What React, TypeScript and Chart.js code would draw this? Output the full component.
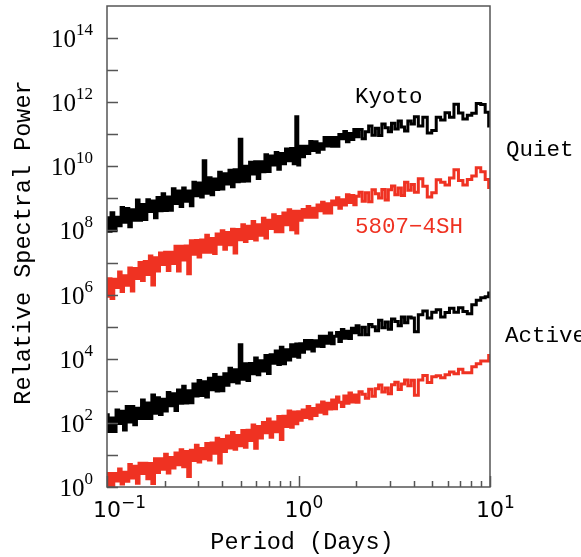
import React, { useEffect, useRef } from 'react';
import { Chart, registerables } from 'chart.js';

Chart.register(...registerables);

// Period grid (days)
const periods = [
  0.100, 0.103, 0.107, 0.110, 0.113, 0.117, 0.120, 0.124, 0.128, 0.132,
  0.136, 0.140, 0.145, 0.149, 0.154, 0.159, 0.164, 0.169, 0.174, 0.180,
  0.185, 0.191, 0.197, 0.203, 0.210, 0.216, 0.223, 0.230, 0.237, 0.245,
  0.252, 0.260, 0.268, 0.277, 0.285, 0.294, 0.304, 0.313, 0.323, 0.333,
  0.344, 0.355, 0.366, 0.377, 0.389, 0.401, 0.414, 0.427, 0.440, 0.454,
  0.468, 0.483, 0.498, 0.514, 0.530, 0.547, 0.564, 0.581, 0.600, 0.618,
  0.638, 0.658, 0.678, 0.700, 0.722, 0.744, 0.768, 0.792, 0.816, 0.842,
  0.869, 0.896, 0.924, 0.953, 0.983, 1.000,
  1.03, 1.06, 1.09, 1.13, 1.16, 1.19, 1.23, 1.27, 1.30, 1.34,
  1.38, 1.43, 1.47, 1.51, 1.56, 1.60, 1.65, 1.70, 1.75, 1.81,
  1.86, 1.92, 1.97, 2.03, 2.11, 2.19, 2.28, 2.37, 2.47, 2.57,
  2.67, 2.78, 2.89, 3.00, 3.12, 3.25, 3.38, 3.51, 3.65, 3.80,
  3.95, 4.11, 4.34, 4.58, 4.83, 5.10, 5.38, 5.67, 5.98, 6.31,
  6.66, 7.03, 7.41, 7.82, 8.25, 8.71, 9.19, 9.69, 10.0,
];

// Quiet Sun, Kyoto
const kyotoQuiet = [
  2.5e8, 9.5e7, 3.6e8, 9.8e7, 2.6e8, 1.4e8, 5.2e8, 1.8e8, 4.8e8, 1.3e8,
  4.4e8, 2.1e8, 8.9e8, 2.1e8, 6.5e8, 2.2e8, 9.1e8, 3.9e8, 8.3e8, 2.5e8,
  1.07e9, 4.1e8, 1.4e9, 4.2e8, 1.1e9, 4.3e8, 2.0e9, 6.9e8, 1.7e9, 5.6e8,
  2.1e9, 8.1e8, 1.7e9, 5.9e8, 3.2e9, 1.2e9, 3.0e9, 1.1e9, 1.5e10, 1.45e9,
  4.4e9, 1.3e9, 4.0e9, 1.9e9, 6.5e9, 1.95e9, 5.9e9, 2.8e9, 7.6e9, 2.3e9,
  7.8e9, 3.3e9, 7.0e10, 3.4e9, 1.0e10, 3.5e9, 1.35e10, 5.8e9, 1.4e10, 4.2e9,
  1.4e10, 6.8e9, 2.3e10, 6.9e9, 2.1e10, 1.1e10, 2.7e10, 8.1e9, 2.5e10, 1.2e10,
  3.5e10, 1.5e10, 3.6e10, 1.2e10, 3.5e11, 1.1e10,
  4.2e10, 2.0e10, 4.2e10, 2.5e10, 5.9e10, 3.1e10, 5.8e10, 2.75e10, 5.1e10, 3.4e10,
  7.9e10, 4.3e10, 7.9e10, 4.2e10, 7.9e10, 4.2e10, 9.8e10, 7.2e10, 1.23e11, 5.8e10,
  1.05e11, 6.9e10, 1.4e11, 8.3e10, 1.4e11, 7.2e10, 1.2e11, 1.8e11, 9.3e10, 1.55e11,
  9.1e10, 2.1e11, 1.6e11, 1.2e11, 2.2e11, 1.45e11, 2.6e11, 1.7e11, 1.26e11, 2.6e11,
  2.1e11, 3.5e11, 1.8e11, 3.4e11, 1.1e11, 1.3e11, 3.4e11, 2.8e11, 4.7e11, 3.4e11,
  8.7e11, 4.6e11, 3.0e11, 3.9e11, 4.5e11, 9.1e11, 8.5e11, 4.9e11, 1.8e11,
];

// Quiet Sun, 5807-4SH
const lab5807Quiet = [
  8.9e5, 3.1e6, 7.6e5, 3.0e6, 1.66e6, 5.1e6, 1.26e6, 3.9e6, 1.95e6, 6.8e6,
  1.3e6, 6.5e6, 3.2e6, 1.0e7, 2.75e6, 1.07e7, 4.2e6, 1.6e7, 2.0e6, 1.4e7,
  5.4e6, 2.0e7, 8.7e6, 2.1e7, 5.6e6, 2.1e7, 9.3e6, 3.2e7, 5.4e6, 3.2e7,
  1.2e7, 3.3e7, 4.5e6, 4.8e7, 1.8e7, 4.9e7, 1.5e7, 5.0e7, 2.1e7, 7.1e7,
  2.1e7, 5.6e7, 1.9e7, 7.8e7, 3.7e7, 9.8e7, 2.6e7, 8.7e7, 3.6e7, 1.1e8,
  2.0e7, 1.07e8, 5.1e7, 1.5e8, 4.5e7, 1.35e8, 5.6e7, 1.9e8, 5.0e7, 1.5e8,
  7.1e7, 2.4e8, 5.8e7, 2.1e8, 1.15e8, 3.1e8, 9.1e7, 2.75e8, 9.1e7, 3.5e8,
  1.5e8, 4.4e8, 1.05e8, 4.0e8, 8.3e7, 4.0e8,
  2.1e8, 4.5e8, 2.6e8, 5.6e8, 2.6e8, 4.9e8, 2.6e8, 6.2e8, 4.1e8, 7.6e8,
  3.5e8, 6.8e8, 3.5e8, 8.3e8, 6.3e8, 1.05e9, 4.9e8, 9.1e8, 6.2e8, 1.3e9,
  7.4e8, 1.23e9, 6.3e8, 1.17e9, 1.55e9, 8.1e8, 1.5e9, 7.9e8, 1.86e9, 1.4e9,
  1.02e9, 1.9e9, 8.9e8, 1.86e9, 2.45e9, 1.3e9, 2.1e9, 1.23e9, 3.2e9, 1.8e9,
  2.7e9, 1.55e9, 4.1e9, 2.4e9, 1.1e9, 1.5e9, 3.8e9, 3.2e9, 2.6e9, 4.3e9,
  7.8e9, 3.6e9, 2.6e9, 3.9e9, 5.0e9, 9.1e9, 6.8e9, 3.9e9, 2.2e9,
];

// Active Sun, Kyoto
const kyotoActive = [
  178, 54, 141, 54, 251, 95, 229, 60, 324, 107,
  324, 87, 288, 138, 513, 138, 417, 138, 741, 200,
  603, 182, 550, 234, 891, 339, 813, 245, 1050, 407,
  1380, 417, 1000, 427, 1620, 692, 2090, 708, 1900, 646,
  2450, 1070, 3240, 977, 2630, 1000, 3390, 1480, 5010, 1900,
  4570, 1740, 27500, 2290, 6920, 2090, 7080, 3390, 10500, 3160,
  8710, 4170, 12600, 3470, 13200, 7240, 17400, 6610, 22900, 6920,
  19100, 9120, 27500, 12000, 28800, 11200,
  29500, 15800, 37200, 20000, 37200, 17400, 36300, 24500, 50100, 24000,
  50100, 30200, 63100, 29500, 50100, 66100, 34700, 81300, 43700, 72400,
  42700, 89100, 64600, 107000, 56200, 95500, 56200, 117000, 100000, 74100,
  158000, 93300, 141000, 83200, 174000, 145000, 107000, 200000, 132000, 200000,
  186000, 69200, 234000, 309000, 186000, 282000, 339000, 200000, 275000, 372000,
  282000, 389000, 295000, 251000, 479000, 661000, 794000, 851000, 1120000,
];

// Active Sun, 5807-4SH
const lab5807Active = [
  1.12, 2.63, 0.89, 2.63, 1.55, 3.63, 1.23, 2.88, 1.51, 5.01,
  1.91, 4.47, 1.32, 5.5, 2.63, 5.5, 1.82, 5.37, 1.29, 7.59,
  2.82, 7.59, 3.55, 10.5, 2.75, 8.32, 3.89, 11.5, 4.9, 14.5,
  4.27, 12.9, 2.14, 14.1, 6.76, 20.0, 6.03, 15.8, 7.59, 22.9,
  6.92, 23.4, 11.2, 33.1, 5.62, 30.2, 12.9, 38.9, 16.6, 50.1,
  15.1, 40.7, 19.5, 57.5, 17.4, 58.9, 28.2, 85.1, 16.2, 77.6,
  33.9, 102, 49.0, 132, 35.5, 107, 52.5, 158, 30.2, 162,
  77.6, 234, 72.4, 219, 93.3, 224,
  120, 251, 148, 324, 135, 282, 170, 363, 214, 447,
  191, 407, 269, 513, 275, 646, 437, 324, 692, 407,
  851, 447, 741, 437, 933, 776, 589, 1120, 676, 1150,
  1510, 912, 1230, 813, 1550, 1860, 1100, 1620, 2190, 1450,
  2140, 724, 2190, 3020, 1820, 2750, 2950, 2570, 3160, 3890,
  3390, 4680, 3630, 3630, 5620, 6920, 8510, 8510, 12600,
];

const yLabelExponents = ['0', '2', '4', '6', '8', '10', '12', '14'];
const yTickExponents = [0, 1, 2, 3, 4, 5, 6, 7, 8, 9, 10, 11, 12, 13, 14];
const xLabelExponents = ['\u22121', '0', '1'];
const xLabelValues = [0.1, 1, 10];
const xMinorTicks = [0.2, 0.3, 0.4, 0.5, 0.6, 0.7, 0.8, 0.9, 2, 3, 4, 5, 6, 7, 8, 9];

const xTitle = 'Period (Days)';
const yTitle = 'Relative Spectral Power';
const seriesLabels = ['Kyoto', '5807\u22124SH'];
const groupLabels = ['Quiet', 'Active'];

const BLACK = '#000000';
const RED = '#ef3222';
const FRAME = '#555555';
const MONO = '"Liberation Mono", "DejaVu Sans Mono", monospace';

const decorPlugin = {
  id: 'decor',
  afterDatasetsDraw(chart: any) {
    const { ctx, chartArea: a, scales } = chart;
    const xs = scales.x;
    const ys = scales.y;
    ctx.save();
    // frame
    ctx.strokeStyle = FRAME;
    ctx.lineWidth = 1.5;
    ctx.strokeRect(a.left, a.top, a.right - a.left, a.bottom - a.top);

    // y ticks (inward)
    ctx.beginPath();
    yTickExponents.forEach((e) => {
      const py = Math.round(ys.getPixelForValue(Math.pow(10, e))) + 0.5;
      ctx.moveTo(a.left, py);
      ctx.lineTo(a.left + 11, py);
    });
    // x ticks (inward)
    xLabelValues.forEach((v) => {
      const px = Math.round(xs.getPixelForValue(v)) + 0.5;
      ctx.moveTo(px, a.bottom);
      ctx.lineTo(px, a.bottom - 11);
    });
    xMinorTicks.forEach((v) => {
      const px = Math.round(xs.getPixelForValue(v)) + 0.5;
      ctx.moveTo(px, a.bottom);
      ctx.lineTo(px, a.bottom - 6);
    });
    ctx.stroke();

    // y tick labels: 10^n
    ctx.fillStyle = BLACK;
    ctx.textBaseline = 'alphabetic';
    yLabelExponents.forEach((ex) => {
      const py = ys.getPixelForValue(Math.pow(10, Number(ex)));
      const right = 93;
      ctx.font = '17px "Liberation Serif", serif';
      const ew = ctx.measureText(ex).width;
      ctx.textAlign = 'left';
      ctx.fillText(ex, right - ew, py - 3);
      ctx.font = '25px "Liberation Serif", serif';
      const bw = ctx.measureText('10').width;
      ctx.fillText('10', right - ew - bw, py + 9);
    });

    // x tick labels
    xLabelValues.forEach((v, i) => {
      const px = xs.getPixelForValue(v);
      ctx.font = '22px "DejaVu Sans", sans-serif';
      const bw = ctx.measureText('10').width;
      ctx.textAlign = 'left';
      ctx.fillText('10', px - bw / 2, 517);
      ctx.font = '17px "DejaVu Sans", sans-serif';
      ctx.fillText(xLabelExponents[i], px + bw / 2, 508);
    });

    // axis titles
    ctx.font = '23.5px ' + MONO;
    ctx.textAlign = 'center';
    ctx.fillText(xTitle, 302, 549);
    ctx.save();
    ctx.translate(30, 242.5);
    ctx.rotate(-Math.PI / 2);
    ctx.fillText(yTitle, 0, 0);
    ctx.restore();

    // annotations
    ctx.font = '22.5px ' + MONO;
    ctx.textAlign = 'left';
    ctx.fillStyle = BLACK;
    ctx.fillText(seriesLabels[0], 355, 103);
    ctx.fillStyle = RED;
    ctx.fillText(seriesLabels[1], 355, 233);
    ctx.fillStyle = BLACK;
    ctx.fillText(groupLabels[0], 506, 156);
    ctx.fillText(groupLabels[1], 505, 342);
    ctx.restore();
  },
};

function toPoints(vals: number[]) {
  return periods.map((p, i) => ({ x: p, y: vals[i] }));
}

export default function App() {
  const ref = useRef<HTMLCanvasElement | null>(null);
  useEffect(() => {
    if (!ref.current) return;
    const common = {
      stepped: 'middle' as const,
      borderWidth: 3,
      pointRadius: 0,
      fill: false,
      clip: 0,
    };
    const chart = new Chart(ref.current, {
      type: 'line',
      data: {
        datasets: [
          { ...common, label: 'Kyoto Quiet', data: toPoints(kyotoQuiet), borderColor: BLACK },
          { ...common, label: '5807-4SH Quiet', data: toPoints(lab5807Quiet), borderColor: RED },
          { ...common, label: 'Kyoto Active', data: toPoints(kyotoActive), borderColor: BLACK },
          { ...common, label: '5807-4SH Active', data: toPoints(lab5807Active), borderColor: RED },
        ],
      },
      options: {
        animation: false,
        responsive: false,
        maintainAspectRatio: false,
        devicePixelRatio: 1,
        layout: { padding: { top: 6, right: 91, left: 0, bottom: 0 } },
        plugins: { legend: { display: false }, tooltip: { enabled: false } },
        scales: {
          x: {
            type: 'logarithmic',
            min: 0.1,
            max: 10,
            grid: { display: false },
            border: { display: false },
            ticks: { display: false },
            afterFit: (s: any) => { s.height = 70; },
          },
          y: {
            type: 'logarithmic',
            min: 1,
            max: 1e15,
            grid: { display: false },
            border: { display: false },
            ticks: { display: false },
            afterFit: (s: any) => { s.width = 107; },
          },
        },
      },
      plugins: [decorPlugin],
    } as any);
    return () => chart.destroy();
  }, []);
  return (
    <div style={{ position: 'absolute', left: 0, top: 0, width: 581, height: 557, background: '#fff' }}>
      <canvas ref={ref} width={581} height={557} style={{ width: 581, height: 557, display: 'block' }} />
    </div>
  );
}
